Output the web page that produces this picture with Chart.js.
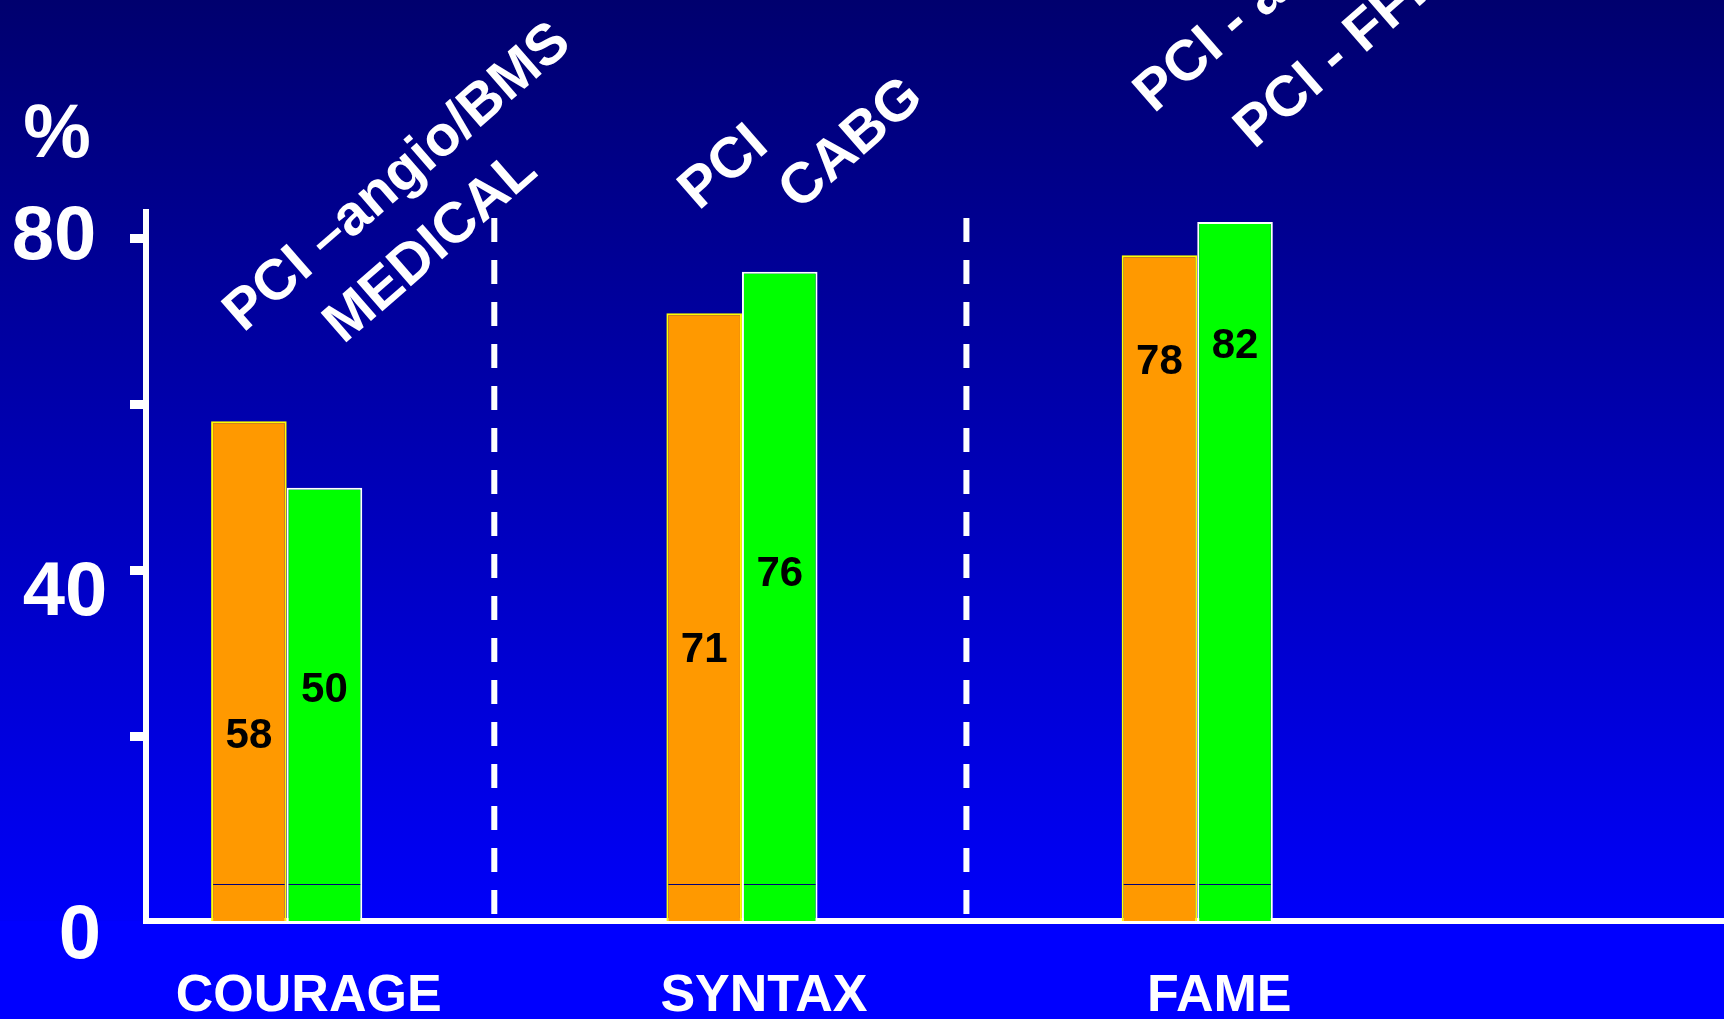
<!DOCTYPE html>
<html>
<head>
<meta charset="utf-8">
<title>COURAGE / SYNTAX / FAME</title>
<script src="https://cdn.jsdelivr.net/npm/chart.js@4/dist/chart.umd.min.js"></script>
<style>
  html, body { margin: 0; padding: 0; background: #0000ff; overflow: hidden; }
  #wrap { position: relative; width: 1724px; height: 1019px; }
</style>
</head>
<body>
<div id="wrap"><canvas id="chart"></canvas></div>
<script>
// Trials shown along the x axis
const categories = ['COURAGE', 'SYNTAX', 'FAME'];

// Treatment arm names for each trial
const armANames = ['PCI \u2013angio/BMS', 'PCI', 'PCI - angio'];
const armBNames = ['MEDICAL', 'CABG', 'PCI - FFR'];

// Percent values per arm
const armAValues = [58, 71, 78];
const armBValues = [50, 76, 82];

// Value axis: tick marks and the ticks that carry a number
const yTickMarks = [20, 40, 60, 80];
const yTickLabels = [0, 40, 80];

const FONT = '"Liberation Sans", Arial, Helvetica, sans-serif';

// Axis ranges (the bars run down to the bottom of the value axis)
const Y_MIN = -2.2, Y_MAX = 83.2;
const X_MIN = -0.309, X_MAX = 3.157;

// Slide background: dark navy at the top fading to pure blue
const slideBackground = {
  id: 'slideBackground',
  beforeDraw(chart) {
    const { ctx, width, height, chartArea } = chart;
    const g = ctx.createLinearGradient(0, 0, 0, chartArea.bottom);
    g.addColorStop(0, '#00006e');
    g.addColorStop(1, '#0000fa');
    ctx.save();
    ctx.fillStyle = g;
    ctx.fillRect(0, 0, width, chartArea.bottom);
    ctx.fillStyle = '#0000ff';
    ctx.fillRect(0, chartArea.bottom, width, height - chartArea.bottom);
    ctx.restore();
  }
};

// Dashed white dividers between the trials
const groupSeparators = {
  id: 'groupSeparators',
  beforeDatasetsDraw(chart, args, opts) {
    const { ctx, chartArea, scales: { x } } = chart;
    ctx.save();
    ctx.strokeStyle = '#ffffff';
    ctx.lineWidth = 6;
    ctx.setLineDash([24, 18]);
    opts.at.forEach(v => {
      const px = x.getPixelForValue(v);
      ctx.beginPath();
      ctx.moveTo(px, chartArea.top + 6);
      ctx.lineTo(px, chartArea.bottom);
      ctx.stroke();
    });
    ctx.restore();
  }
};

// Numbers printed inside the bars, plus the thin rule across each bar
const barValues = {
  id: 'barValues',
  afterDatasetsDraw(chart, args, opts) {
    const { ctx, scales: { y } } = chart;
    ctx.save();
    chart.data.datasets.forEach((ds, d) => {
      chart.getDatasetMeta(d).data.forEach((bar, i) => {
        const ry = Math.round(y.getPixelForValue(opts.ruleAt)) + 0.5;
        ctx.strokeStyle = '#00007a';
        ctx.lineWidth = 1;
        ctx.beginPath();
        ctx.moveTo(bar.x - bar.width / 2 + 2, ry);
        ctx.lineTo(bar.x + bar.width / 2 - 2, ry);
        ctx.stroke();

        ctx.fillStyle = '#000000';
        ctx.font = `bold 42px ${FONT}`;
        ctx.textAlign = 'center';
        ctx.textBaseline = 'middle';
        ctx.fillText(String(ds.data[i].y), bar.x, y.getPixelForValue(opts.levels[d][i]));
      });
    });
    ctx.restore();
  }
};

// Slanted arm names above each pair of bars, value-axis numbers and the % unit
const slideText = {
  id: 'slideText',
  afterDraw(chart, args, opts) {
    const { ctx, scales: { x, y } } = chart;
    ctx.save();
    ctx.fillStyle = '#ffffff';

    [armANames, armBNames].forEach((names, d) => {
      names.forEach((name, i) => {
        const px = x.getPixelForValue(i + opts.armShift[d]);
        const py = y.getPixelForValue(opts.armLevels[d][i]);
        ctx.save();
        ctx.translate(px, py);
        ctx.rotate(-opts.angle * Math.PI / 180);
        ctx.font = `bold 57px ${FONT}`;
        ctx.textAlign = 'left';
        ctx.textBaseline = 'alphabetic';
        ctx.fillText(name, 0, 0);
        ctx.restore();
      });
    });

    ctx.font = `bold 76px ${FONT}`;
    ctx.textAlign = 'center';
    ctx.textBaseline = 'middle';
    yTickLabels.forEach((v, i) => {
      const [cx, dy] = opts.yLabelPlace[i];
      ctx.fillText(String(v), cx, y.getPixelForValue(v) + dy);
    });
    ctx.fillText('%', opts.unitPlace[0], opts.unitPlace[1]);
    ctx.restore();
  }
};

Chart.defaults.font.family = FONT;

new Chart(document.getElementById('chart'), {
  type: 'bar',
  data: {
    datasets: [
      {
        label: 'arm A',
        data: categories.map((c, i) => ({ x: i, y: armAValues[i] })),
        backgroundColor: '#ff9900',
        borderColor: '#ffff00',
        borderWidth: 2,
        base: Y_MIN
      },
      {
        label: 'arm B',
        data: categories.map((c, i) => ({ x: i, y: armBValues[i] })),
        backgroundColor: '#00ff00',
        borderColor: '#ffffff',
        borderWidth: 2,
        base: Y_MIN
      }
    ]
  },
  options: {
    responsive: true,
    maintainAspectRatio: false,
    animation: false,
    devicePixelRatio: 1,
    layout: { padding: { left: 130, top: 212, right: 0, bottom: 0 } },
    datasets: { bar: { categoryPercentage: 0.332, barPercentage: 1 } },
    plugins: {
      legend: { display: false },
      tooltip: { enabled: false },
      groupSeparators: { at: [0.456, 1.493] },
      barValues: {
        ruleAt: 2.3,
        levels: [[20.0, 30.4, 65.1], [25.6, 39.6, 67.0]]
      },
      slideText: {
        angle: 41,
        armShift: [-0.095, 0.125],
        armLevels: [[68.6, 83.3, 95.0], [67.2, 83.3, 90.7]],
        yLabelPlace: [[80, 34], [65, 23], [54, -1]],
        unitPlace: [57, 136]
      }
    },
    scales: {
      x: {
        type: 'linear',
        min: X_MIN,
        max: X_MAX,
        offset: false,
        afterBuildTicks: s => { s.ticks = categories.map((c, i) => ({ value: i })); },
        afterFit: s => { s.height = 98; },
        ticks: {
          callback: v => categories[v] ?? '',
          color: '#ffffff',
          font: { size: 52, weight: 'bold', lineHeight: 0.9 },
          padding: 44,
          labelOffset: 22,
          maxRotation: 0,
          autoSkip: false
        },
        grid: { display: false, offset: false },
        border: { display: true, color: '#ffffff', width: 6 }
      },
      y: {
        min: Y_MIN,
        max: Y_MAX,
        afterBuildTicks: s => { s.ticks = yTickMarks.map(v => ({ value: v })); },
        ticks: { display: false },
        grid: {
          display: true,
          drawOnChartArea: false,
          drawTicks: true,
          tickLength: 16,
          tickWidth: 9,
          tickColor: '#ffffff'
        },
        border: { display: true, color: '#ffffff', width: 6 }
      }
    }
  },
  plugins: [slideBackground, groupSeparators, barValues, slideText]
});
</script>
</body>
</html>
